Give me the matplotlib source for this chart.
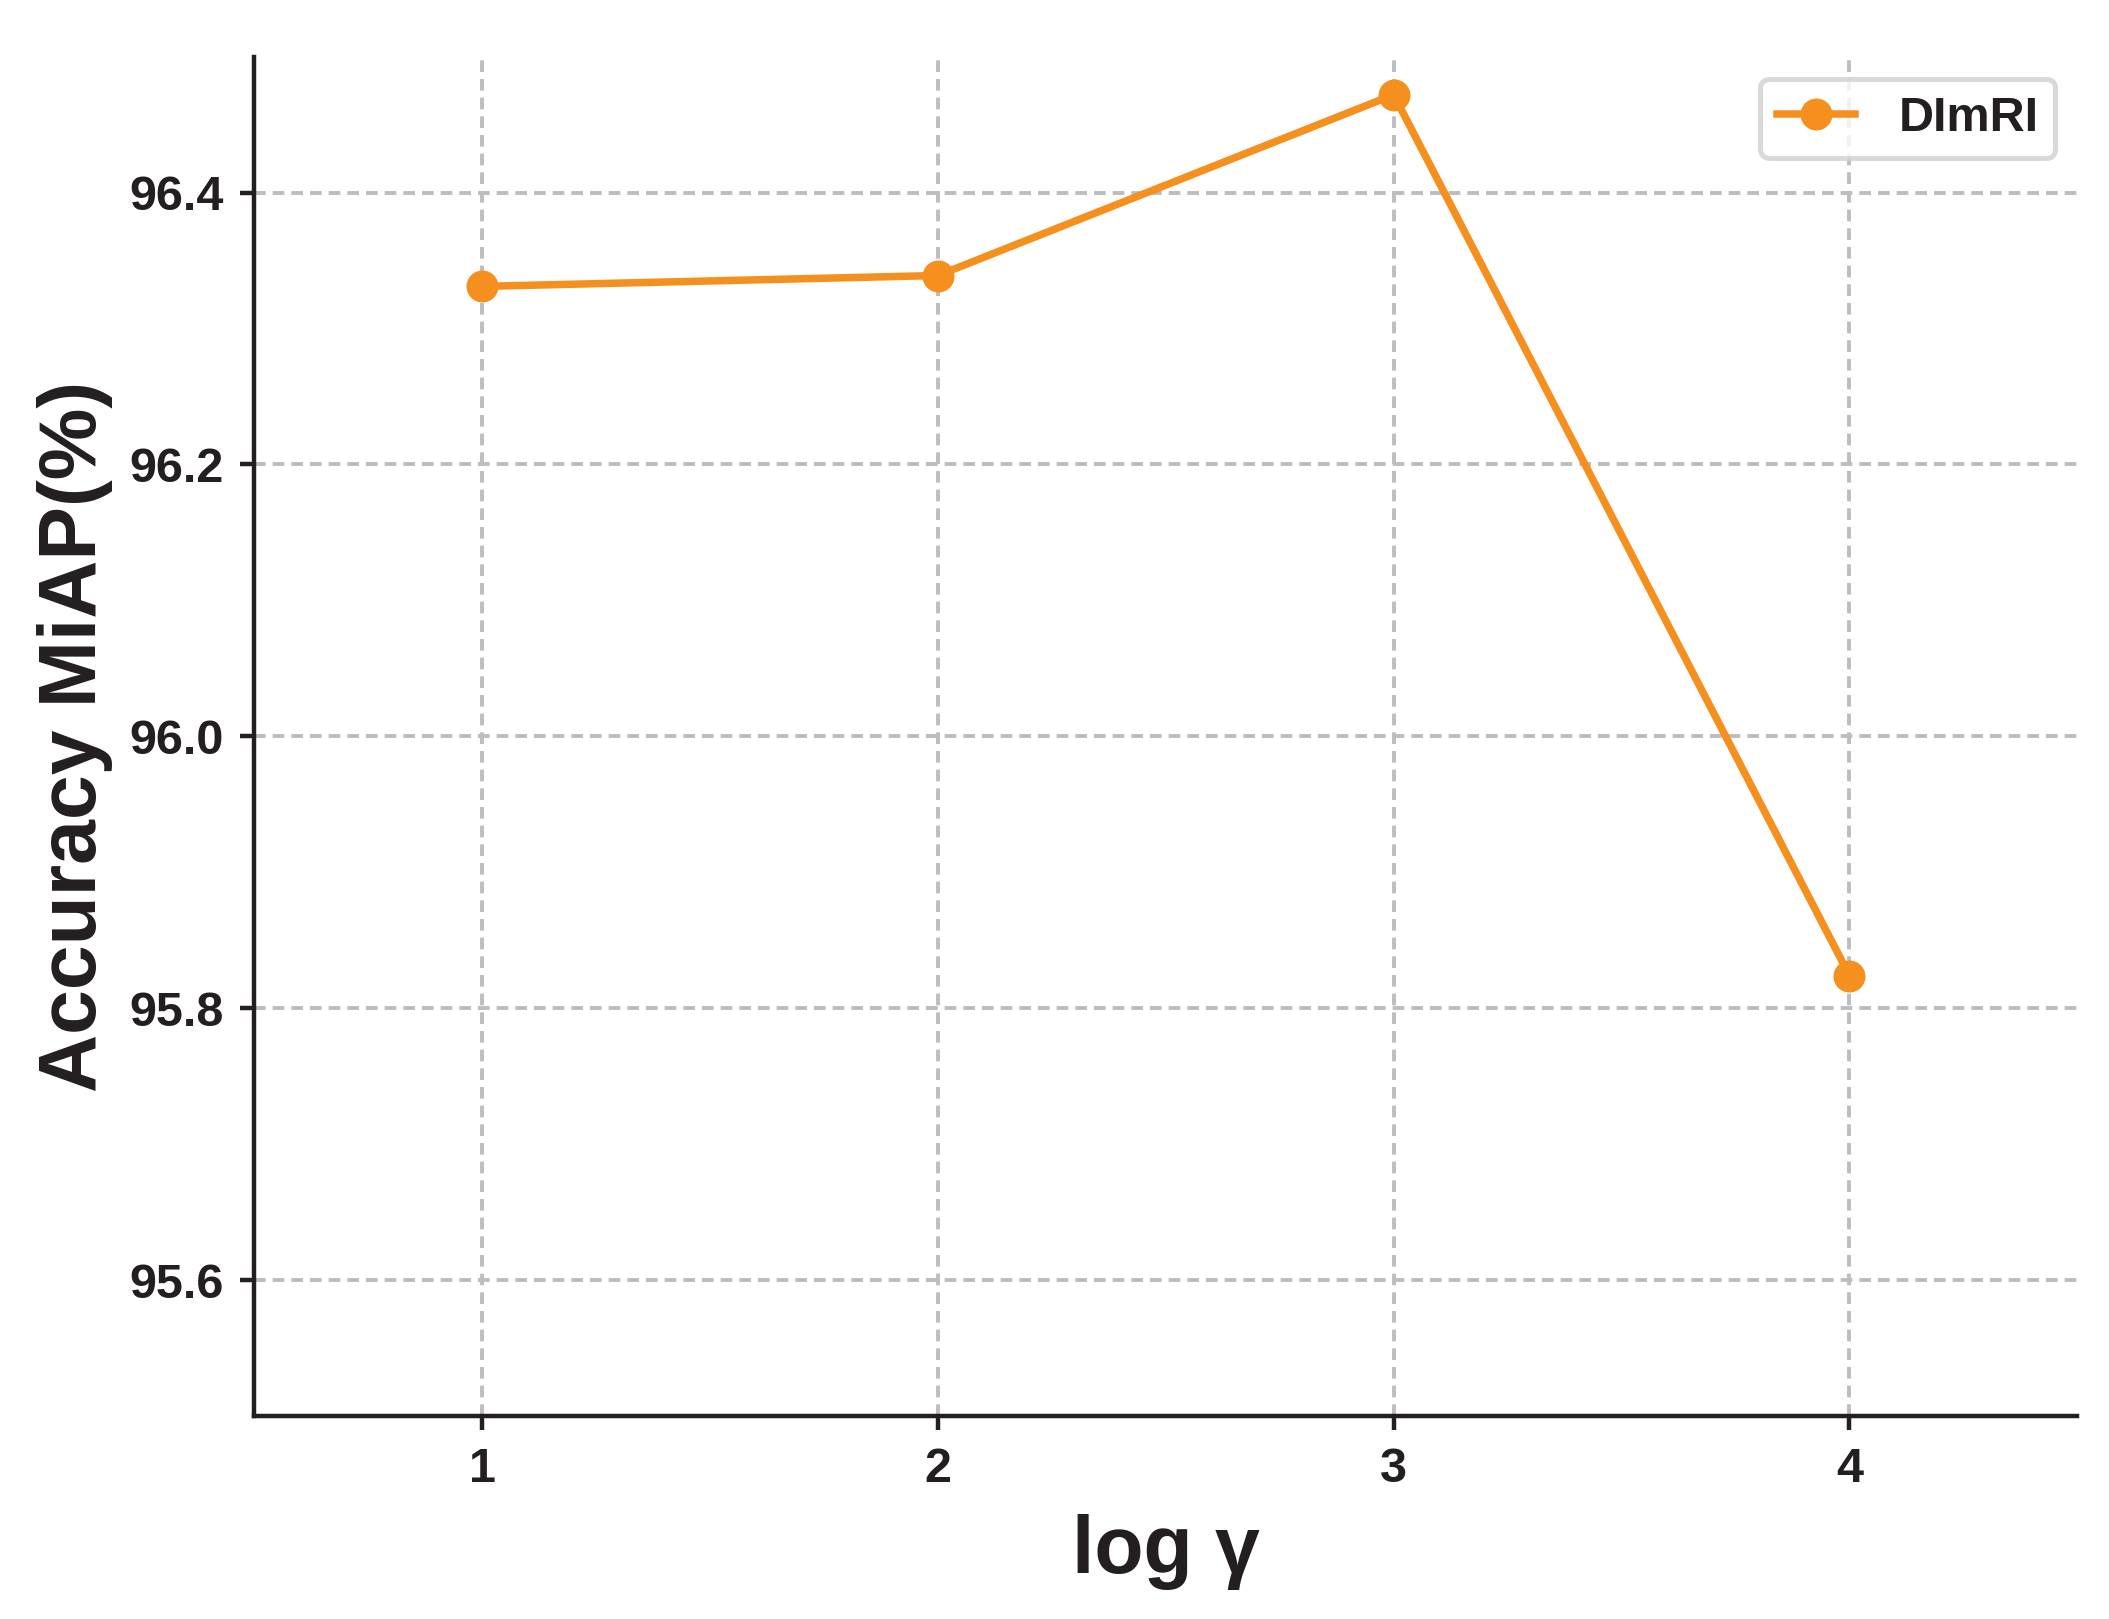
import matplotlib
matplotlib.use("Agg")
import matplotlib.pyplot as plt

# data
log_gamma = [1, 2, 3, 4]
miap = [96.331, 96.339, 96.472, 95.824]
series_name = "DImRI"

plt.rcParams['font.family'] = ['Liberation Sans', 'DejaVu Sans']
plt.rcParams['font.weight'] = 'bold'

fig = plt.figure(figsize=(10.545, 8.095), dpi=200)
ax = fig.add_axes([0.1205, 0.1254, 0.8645, 0.8396])

ax.plot(log_gamma, miap, color='#f58f1e', linewidth=2.7, marker='o',
        markersize=10.5, label=series_name, zorder=3)

ax.set_xlim(0.5, 4.5)
ax.set_ylim(95.5, 96.5)
ax.set_xticks(log_gamma)
ax.set_yticks([95.6, 95.8, 96.0, 96.2, 96.4])
ax.set_yticklabels(["95.6", "95.8", "96.0", "96.2", "96.4"])

ax.grid(True, color='#bdbdbd', linestyle='--', linewidth=1.4, dashes=(3, 1.8))
ax.set_axisbelow(True)

for side in ['top', 'right']:
    ax.spines[side].set_visible(False)
for side in ['left', 'bottom']:
    ax.spines[side].set_linewidth(1.6)
    ax.spines[side].set_color('#231f20')

ax.tick_params(axis='both', labelsize=17.5, width=1.6, length=5,
               color='#231f20', labelcolor='#231f20', pad=6)
for lab in ax.get_xticklabels() + ax.get_yticklabels():
    lab.set_fontweight('bold')

ax.set_xlabel("log γ", fontsize=29, fontweight='bold', color='#231f20', labelpad=8)
ax.set_ylabel("Accuracy MiAP(%)", fontsize=29, fontweight='bold', color='#231f20', labelpad=6)

leg = ax.legend(loc='upper right', fontsize=17.5, frameon=True, fancybox=True,
                framealpha=0.8, edgecolor='#d0d0d0', handlelength=1.6,
                borderpad=0.35, handletextpad=0.9, borderaxespad=0.45)
leg.get_frame().set_linewidth(1.8)
for t in leg.get_texts():
    t.set_fontweight('bold')
    t.set_color('#231f20')

fig.savefig("out.png", dpi=200, facecolor='white')
